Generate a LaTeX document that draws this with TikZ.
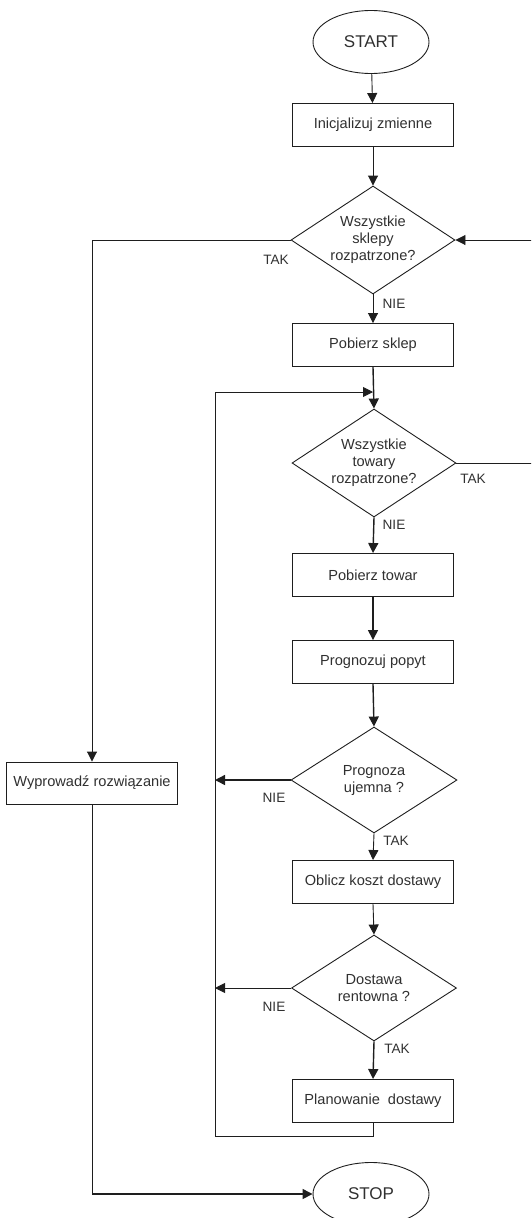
\documentclass[tikz,border=0pt]{standalone}
\usepackage{fontspec}
\setmainfont{Liberation Sans}
\usetikzlibrary{shapes.geometric,arrows.meta}
\definecolor{ln}{HTML}{1E1E1E}
\definecolor{tx}{HTML}{303030}
\begin{document}
\begin{tikzpicture}[x=1pt,y=-1pt,
  every node/.style={text=tx,font=\fontsize{14.6}{17}\selectfont},
  line/.style={draw=ln,line width=0.9pt},
  arr/.style={line,-{Triangle[length=10pt,width=10pt]}},
  tharr/.style={arr,line width=1.4pt},
  procbox/.style={draw=ln,line width=0.9pt,rectangle,minimum width=161pt,minimum height=43pt,inner sep=0pt},
  term/.style={draw=ln,line width=0.9pt,ellipse,minimum width=116pt,minimum height=63pt,inner sep=0pt,font=\fontsize{17}{20}\selectfont},
  decision/.style={draw=ln,line width=0.9pt,diamond,aspect=1.5,inner sep=0pt,minimum width=164pt,minimum height=108pt,align=center},
  lab/.style={font=\fontsize{13.6}{16}\selectfont}]
\useasboundingbox (0,0) rectangle (531,1218);
\clip (0,0) rectangle (531,1218);

\node[term] (start) at (371,42) {START};
\node[procbox] (init) at (373,125) {Inicjalizuj zmienne};
\node[decision] (d1) at (373,240) {Wszystkie\\sklepy\\rozpatrzone?};
\node[procbox] (sklep) at (373,345) {Pobierz sklep};
\node[decision] (d2) at (374,463) {Wszystkie\\towary\\rozpatrzone?};
\node[procbox] (towar) at (373,575) {Pobierz towar};
\node[procbox] (prog) at (373,662) {Prognozuj popyt};
\node[decision,minimum width=166pt,minimum height=106pt] (d3) at (374,780) {Prognoza\\ujemna ?};
\node[procbox] (oblicz) at (373,882) {Oblicz koszt dostawy};
\node[decision,minimum width=165pt,minimum height=106pt] (d4) at (374,988) {Dostawa\\rentowna ?};
\node[procbox] (plan) at (373,1101) {Planowanie\ \ dostawy};
\node[procbox,minimum width=171pt,minimum height=42pt] (wyp) at (92,783) {Wyprowadź rozwiązanie};
\node[term] (stop) at (371,1194) {STOP};

\node[lab] (l1) at (276,260) {TAK};
\node[lab] (l2) at (394,304) {NIE};
\node[lab] (l3) at (473,479) {TAK};
\node[lab] (l4) at (394,525) {NIE};
\node[lab] (l5) at (274,798) {NIE};
\node[lab] (l6) at (396,841) {TAK};
\node[lab] (l7) at (274,1007) {NIE};
\node[lab] (l8) at (397,1049) {TAK};

\coordinate (join) at (373,392);
\coordinate (loopTL) at (215,392);
\coordinate (loopBL) at (215,1136);
\coordinate (planB) at (373,1136);
\coordinate (rightB) at (545,463);
\coordinate (rightT) at (545,240);
\coordinate (n3) at (215,780);
\coordinate (n4) at (215,988);

\draw[arr] (start) -- (init);
\draw[arr] (init) -- (d1);
\draw[arr] (d1.west) -| (wyp.north);
\draw[arr] (d1.south) -- (sklep.north);
\draw[tharr] (sklep.south) -- (d2.north);
\draw[line] (d2.east) -- (rightB) -- (rightT);
\draw[arr] (rightT) -- (d1.east);
\draw[tharr] (d2.south) -- (towar.north);
\draw[tharr] (towar.south) -- (prog.north);
\draw[tharr] (prog.south) -- (d3.north);
\draw[tharr] (d3.west) -- (n3);
\draw[arr] (d3.south) -- (oblicz.north);
\draw[arr] (oblicz.south) -- (d4.north);
\draw[arr] (d4.west) -- (n4);
\draw[tharr] (d4.south) -- (plan.north);
\draw[line] (plan.south) -- (planB) -- (loopBL) -- (loopTL);
\draw[arr] (loopTL) -- (join);
\draw[line] (wyp.south) -- (wyp.south |- stop.west);
\draw[tharr] (wyp.south |- stop.west) -- (stop.west);
\end{tikzpicture}
\end{document}
